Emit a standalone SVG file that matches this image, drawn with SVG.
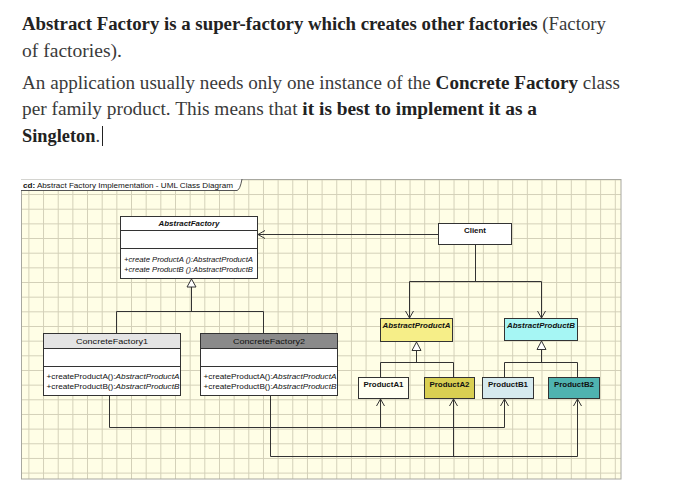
<svg xmlns="http://www.w3.org/2000/svg" width="681" height="495" viewBox="0 0 681 495">
<style>
.prose{font-family:"Liberation Serif","DejaVu Serif",serif;font-size:18.5px;fill:#3a3a3a}
.b{font-weight:bold;fill:#222}
.sm{font-family:"Liberation Sans",Arial,sans-serif;font-size:7.2px;fill:#111}
.nm{font-weight:bold;text-anchor:middle}
.it{font-style:italic}
.box{stroke:#333;stroke-width:1}
.ln{fill:none;stroke:#333;stroke-width:1}
.gen{fill:#fff;stroke:#333;stroke-width:1}
</style>
<defs>
<pattern id="grid" patternUnits="userSpaceOnUse" x="28.4" y="179.4" width="14.66" height="14.66">
<path d="M0.5,0 V14.66 M0,0.5 H14.66" fill="none" stroke="#d3d0b8" stroke-width="1"/>
</pattern>
</defs>
<rect width="681" height="495" fill="#fff"/>
<g id="prose">
<text class="prose" x="22" y="30" textLength="584" lengthAdjust="spacingAndGlyphs"><tspan class="b">Abstract Factory is a super-factory which creates other factories</tspan> (Factory</text>
<text class="prose" x="22" y="57" textLength="100" lengthAdjust="spacingAndGlyphs">of factories).</text>
<text class="prose" x="22" y="89" textLength="598" lengthAdjust="spacingAndGlyphs">An application usually needs only one instance of the <tspan class="b">Concrete Factory</tspan> class</text>
<text class="prose" x="22" y="115" textLength="515" lengthAdjust="spacingAndGlyphs">per family product. This means that <tspan class="b">it is best to implement it as a</tspan></text>
<text class="prose" x="22" y="142" textLength="78" lengthAdjust="spacingAndGlyphs"><tspan class="b">Singleton</tspan>.</text>
<line x1="102.5" y1="126" x2="102.5" y2="146" stroke="#222" stroke-width="1"/>
</g>
<g id="frame">
<rect x="21" y="179" width="600" height="300" fill="#fffee6"/>
<rect x="21" y="179" width="600" height="300" fill="url(#grid)"/>
<rect x="21.5" y="179.5" width="599.5" height="299.5" fill="none" stroke="#a8a8a0" stroke-width="1"/>
<path d="M21,179.5 H242 L238,190.5 H21 Z" fill="#fff"/>
<path d="M21,190.5 H237 Q240,190 242,179" fill="none" stroke="#555" stroke-width="1"/>
<text class="sm" x="23" y="188" textLength="210" lengthAdjust="spacingAndGlyphs"><tspan font-weight="bold">cd:</tspan> Abstract Factory Implementation - UML Class Diagram</text>
</g>
<g id="connectors">
<path class="ln" d="M438.5,234.5 H258"/>
<path class="ln" d="M265,230.5 L258,234.5 L265,238.5"/>
<path class="ln" d="M475.5,244 V281.5 M409.5,281.5 H541.5 M409.5,281.5 V318 M541.5,281.5 V318"/>
<path class="ln" d="M405.5,311 L409.5,318 L413.5,311 M537.5,311 L541.5,318 L545.5,311"/>
<path class="ln" d="M191.5,287 V311.5 M116.5,311.5 H263.5 M116.5,311.5 V333 M263.5,311.5 V333"/>
<polygon class="gen" points="191.5,279 187,287 196,287"/>
<path class="ln" d="M416.5,350.5 V362.5 M380.5,362.5 H453.5 M380.5,362.5 V377 M453.5,362.5 V377"/>
<polygon class="gen" points="416.5,342 412,350.5 421,350.5"/>
<path class="ln" d="M541.5,349.5 V362.5 M504.5,362.5 H577.5 M504.5,362.5 V377 M577.5,362.5 V377"/>
<polygon class="gen" points="541.5,341 537,349.5 546,349.5"/>
<path class="ln" d="M109.5,395 V427.5 H504.5 V399 M380.5,427.5 V399"/>
<path class="ln" d="M270.5,395 V456.5 H577.5 V399 M453.5,456.5 V399"/>
<path class="ln" d="M376.5,406 L380.5,399 L384.5,406 M449.5,406 L453.5,399 L457.5,406 M500.5,406 L504.5,399 L508.5,406 M573.5,406 L577.5,399 L581.5,406"/>
</g>
<g id="AbstractFactory">
<rect class="box" x="120.5" y="216.5" width="137" height="62" fill="#fff"/>
<path class="ln" d="M120.5,230.5 H257.5 M120.5,248.5 H257.5"/>
<text class="sm nm it" x="189" y="226" textLength="61" lengthAdjust="spacingAndGlyphs">AbstractFactory</text>
<text class="sm it" x="124" y="262" textLength="129" lengthAdjust="spacingAndGlyphs">+create ProductA ():AbstractProductA</text>
<text class="sm it" x="124" y="272" textLength="129" lengthAdjust="spacingAndGlyphs">+create ProductB ():AbstractProductB</text>
</g>
<g id="Client">
<rect class="box" x="438.5" y="223.5" width="73" height="21" fill="#fff"/>
<text class="sm nm" x="475" y="233" textLength="22" lengthAdjust="spacingAndGlyphs">Client</text>
</g>
<g id="ConcreteFactory1">
<rect class="box" x="43.5" y="333.5" width="137" height="62" fill="#fff"/>
<rect x="44" y="334" width="136" height="14" fill="#e4e4e4"/>
<path class="ln" d="M43.5,348.5 H180.5 M43.5,366.5 H180.5"/>
<text class="sm" x="112" y="344" text-anchor="middle" textLength="72" lengthAdjust="spacingAndGlyphs">ConcreteFactory1</text>
<text class="sm" x="46.5" y="379" textLength="133" lengthAdjust="spacingAndGlyphs">+createProductA():<tspan class="it">AbstractProductA</tspan></text>
<text class="sm" x="46.5" y="389" textLength="133" lengthAdjust="spacingAndGlyphs">+createProductB():<tspan class="it">AbstractProductB</tspan></text>
</g>
<g id="ConcreteFactory2">
<rect class="box" x="200.5" y="333.5" width="137" height="62" fill="#fff"/>
<rect x="201" y="334" width="136" height="14" fill="#8a8a8a"/>
<path class="ln" d="M200.5,348.5 H337.5 M200.5,366.5 H337.5"/>
<text class="sm" x="269" y="344" text-anchor="middle" textLength="72" lengthAdjust="spacingAndGlyphs">ConcreteFactory2</text>
<text class="sm" x="203.5" y="379" textLength="133" lengthAdjust="spacingAndGlyphs">+createProductA():<tspan class="it">AbstractProductA</tspan></text>
<text class="sm" x="203.5" y="389" textLength="133" lengthAdjust="spacingAndGlyphs">+createProductB():<tspan class="it">AbstractProductB</tspan></text>
</g>
<g id="AbstractProductA">
<rect class="box" x="380.5" y="318.5" width="72" height="23" fill="#f6ee88"/>
<text class="sm nm it" x="416.5" y="328" textLength="68" lengthAdjust="spacingAndGlyphs">AbstractProductA</text>
</g>
<g id="AbstractProductB">
<rect class="box" x="504.5" y="318.5" width="73" height="22" fill="#a6f6f4"/>
<text class="sm nm it" x="541" y="328" textLength="68" lengthAdjust="spacingAndGlyphs">AbstractProductB</text>
</g>
<g id="ProductA1">
<rect class="box" x="358.5" y="377.5" width="50" height="21" fill="#fffff2"/>
<text class="sm nm" x="383.5" y="387" textLength="40" lengthAdjust="spacingAndGlyphs">ProductA1</text>
</g>
<g id="ProductA2">
<rect class="box" x="424.5" y="377.5" width="50" height="21" fill="#d9cf52"/>
<text class="sm nm" x="449.5" y="387" textLength="40" lengthAdjust="spacingAndGlyphs">ProductA2</text>
</g>
<g id="ProductB1">
<rect class="box" x="482.5" y="377.5" width="51" height="21" fill="#d6eaee"/>
<text class="sm nm" x="508" y="387" textLength="40" lengthAdjust="spacingAndGlyphs">ProductB1</text>
</g>
<g id="ProductB2">
<rect class="box" x="548.5" y="377.5" width="51" height="21" fill="#4fb3b0"/>
<text class="sm nm" x="574" y="387" textLength="40" lengthAdjust="spacingAndGlyphs">ProductB2</text>
</g>
</svg>
